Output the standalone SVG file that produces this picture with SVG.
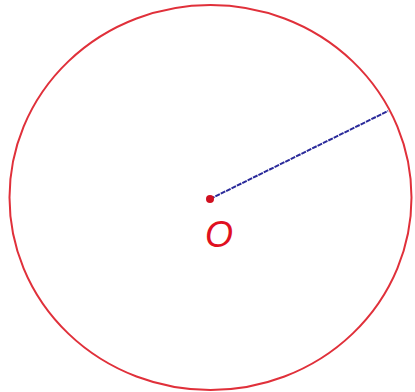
<svg xmlns="http://www.w3.org/2000/svg" width="415" height="392" viewBox="0 0 415 392">
<style>
.outline{fill:none;stroke:#e0303a;stroke-width:2}
.radius{stroke:#2a2a9a;stroke-width:2;stroke-dasharray:5 1}
.lbl{font-family:"Liberation Sans",Arial,sans-serif;font-style:italic;font-size:36px;fill:#e01020}
</style>
<rect width="415" height="392" fill="#fff"/>
<g id="circle"><ellipse class="outline" cx="210.5" cy="197.5" rx="201" ry="192.5"/></g>
<g id="connectors"><line class="radius" x1="210" y1="199" x2="388" y2="111"/></g>
<g id="center"><circle cx="210" cy="199" r="4" fill="#d01020"/><text class="lbl" x="219" y="247" text-anchor="middle">O</text></g>
</svg>
